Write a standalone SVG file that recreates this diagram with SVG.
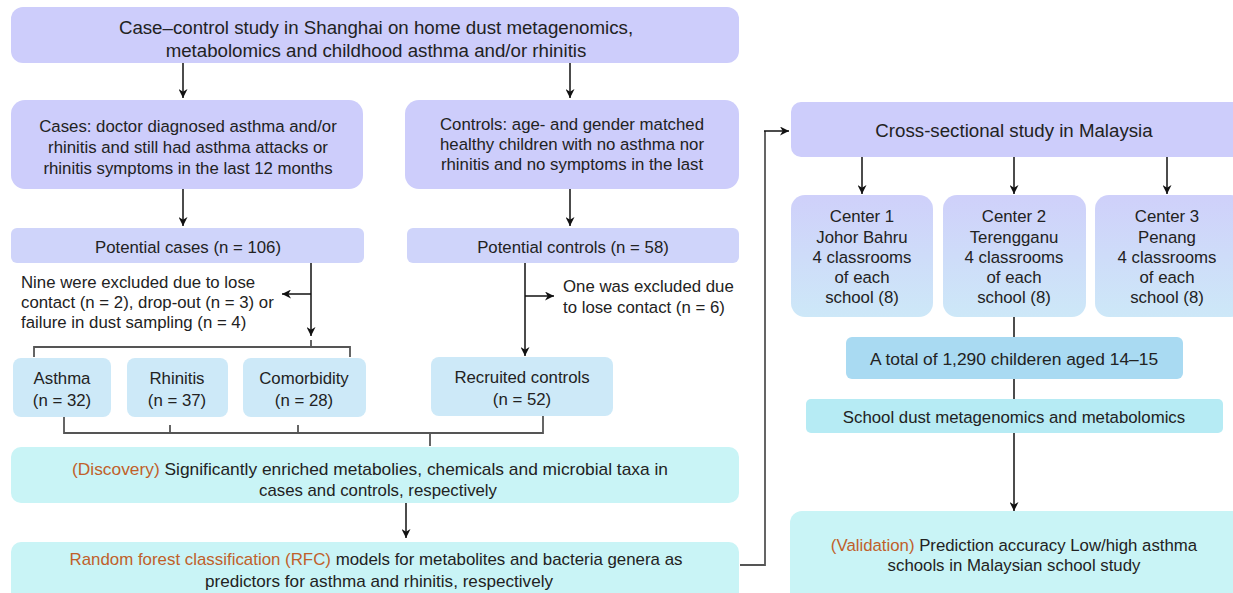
<svg xmlns="http://www.w3.org/2000/svg" width="1233" height="593" viewBox="0 0 1233 593">
<defs>
<marker id="ah" viewBox="0 0 10 10" refX="10" refY="5" markerWidth="9" markerHeight="9" markerUnits="userSpaceOnUse" orient="auto">
<path d="M0,0 L10,5 L0,10 L3,5 z" fill="#111"/>
</marker>
<linearGradient id="cg" x1="0" y1="0" x2="0" y2="1">
<stop offset="0" stop-color="#cfd0fa"/>
<stop offset="1" stop-color="#cde8f8"/>
</linearGradient>
<style>
text{font-family:"Liberation Sans",Arial,sans-serif;fill:#222;}
.t18{font-size:18.7px;text-anchor:middle;}
.t16{font-size:16.8px;text-anchor:middle;}
.l16{font-size:16.8px;}
.n{font-size:17px;text-anchor:middle;}
.lav{fill:#cdcdfb;}
.pot{fill:#cfd4fa;}
.lb{fill:#cde9f8;}
.cy{fill:#c9f4f6;}
.tot{fill:#a9daf2;}
.sd{fill:#b6ebf4;}
.or{fill:#c0602a;}
.arr{stroke:#111;stroke-width:1.5;fill:none;marker-end:url(#ah);}
.ln{stroke:#111;stroke-width:1.5;fill:none;}
.br{stroke:#555;stroke-width:1.8;fill:none;}
</style>
</defs>

<g id="connectors">
<line class="arr" x1="183" y1="63" x2="183" y2="98"/>
<line class="arr" x1="570" y1="63" x2="570" y2="98"/>
<line class="arr" x1="183" y1="189" x2="183" y2="226"/>
<line class="arr" x1="570" y1="189" x2="570" y2="226"/>
<line class="arr" x1="311" y1="263" x2="311" y2="336"/>
<line class="arr" x1="311" y1="294" x2="282" y2="294"/>
<line class="arr" x1="525" y1="263" x2="525" y2="356"/>
<line class="arr" x1="525" y1="296" x2="554" y2="296"/>
<path class="br" d="M34,357 V347 H350 V357 M311,347 V340"/>
<path class="br" d="M64,417 V433 H543 V416 M170,433 V425 M298,433 V425 M430,433 V446"/>
<line class="arr" x1="406" y1="503" x2="406" y2="538"/>
<path class="br" d="M740,565 H765 V131"/>
<line class="arr" x1="764" y1="131" x2="789" y2="131"/>
<line class="arr" x1="862" y1="157" x2="862" y2="194"/>
<line class="arr" x1="1014" y1="157" x2="1014" y2="194"/>
<line class="arr" x1="1167" y1="157" x2="1167" y2="194"/>
<line class="ln" x1="1014" y1="317" x2="1014" y2="337"/>
<line class="ln" x1="1014" y1="379" x2="1014" y2="399"/>
<line class="arr" x1="1014" y1="433" x2="1014" y2="511"/>
</g>

<g id="case-control">
<rect class="lav" x="11" y="7" width="728" height="56" rx="12"/>
<text class="t18" x="376" y="33.5">Case–control study in Shanghai on home dust metagenomics,</text>
<text class="t18" x="376" y="56.5">metabolomics and childhood asthma and/or rhinitis</text>
</g>

<g id="cases">
<rect class="lav" x="11" y="100" width="352" height="89" rx="14"/>
<text class="t16" x="188" y="132">Cases:  doctor diagnosed asthma and/or</text>
<text class="t16" x="188" y="153">rhinitis and still had asthma attacks or</text>
<text class="t16" x="188" y="174">rhinitis symptoms in the last 12 months</text>
</g>

<g id="controls">
<rect class="lav" x="405" y="100" width="334" height="89" rx="14"/>
<text class="t16" x="572" y="130">Controls: age- and gender matched</text>
<text class="t16" x="572" y="150">healthy children with no asthma nor</text>
<text class="t16" x="572" y="170">rhinitis and no symptoms in the last</text>
</g>

<g id="potential-cases">
<rect class="pot" x="11" y="228" width="353" height="35" rx="6"/>
<text class="t16" x="188" y="252.5">Potential cases (n = 106)</text>
</g>

<g id="potential-controls">
<rect class="pot" x="407" y="228" width="332" height="35" rx="6"/>
<text class="t16" x="573" y="252.5">Potential controls (n = 58)</text>
</g>

<g id="excluded-cases">
<text class="l16" x="21" y="288">Nine were excluded due to lose</text>
<text class="l16" x="21" y="308">contact (n = 2), drop-out (n = 3) or</text>
<text class="l16" x="21" y="328">failure in dust sampling (n = 4)</text>
</g>

<g id="excluded-controls">
<text class="l16" x="563" y="291.5">One was excluded due</text>
<text class="l16" x="563" y="312.5">to lose contact (n = 6)</text>
</g>

<g id="asthma">
<rect class="lb" x="13" y="358" width="98" height="59" rx="8"/>
<text class="t16" x="62" y="384">Asthma</text>
<text class="t16" x="62" y="406">(n = 32)</text>
</g>

<g id="rhinitis">
<rect class="lb" x="127" y="358" width="101" height="59" rx="8"/>
<text class="t16" x="177" y="384">Rhinitis</text>
<text class="t16" x="177" y="406">(n = 37)</text>
</g>

<g id="comorbidity">
<rect class="lb" x="243" y="358" width="123" height="59" rx="8"/>
<text class="t16" x="304" y="384">Comorbidity</text>
<text class="t16" x="304" y="406">(n = 28)</text>
</g>

<g id="recruited-controls">
<rect class="lb" x="431" y="357" width="182" height="59" rx="8"/>
<text class="t16" x="522" y="383">Recruited controls</text>
<text class="t16" x="522" y="405">(n = 52)</text>
</g>

<g id="discovery">
<rect class="cy" x="11" y="447" width="728" height="56" rx="10"/>
<text class="n" x="370" y="475" textLength="596" lengthAdjust="spacingAndGlyphs"><tspan class="or">(Discovery)</tspan> Significantly enriched metabolies, chemicals and microbial taxa in</text>
<text class="n" x="378" y="496" textLength="238" lengthAdjust="spacingAndGlyphs">cases and controls, respectively</text>
</g>

<g id="rfc">
<rect class="cy" x="11" y="542" width="728" height="60" rx="10"/>
<text class="n" x="376" y="565" textLength="613" lengthAdjust="spacingAndGlyphs"><tspan class="or">Random forest classification (RFC)</tspan> models for metabolites and bacteria genera as</text>
<text class="n" x="379" y="587" textLength="348" lengthAdjust="spacingAndGlyphs">predictors for asthma and rhinitis, respectively</text>
</g>

<g id="malaysia">
<rect class="lav" x="791" y="102" width="454" height="55" rx="10"/>
<text class="t18" x="1014" y="136.5">Cross-sectional study in Malaysia</text>
</g>

<g id="center1">
<rect fill="url(#cg)" x="791" y="195" width="142" height="122" rx="14"/>
<text class="t16" x="862" y="222">Center 1</text>
<text class="t16" x="862" y="242.5">Johor Bahru</text>
<text class="t16" x="862" y="263">4 classrooms</text>
<text class="t16" x="862" y="283">of each</text>
<text class="t16" x="862" y="303">school (8)</text>
</g>

<g id="center2">
<rect fill="url(#cg)" x="943" y="195" width="143" height="122" rx="14"/>
<text class="t16" x="1014" y="222">Center 2</text>
<text class="t16" x="1014" y="242.5">Terengganu</text>
<text class="t16" x="1014" y="263">4 classrooms</text>
<text class="t16" x="1014" y="283">of each</text>
<text class="t16" x="1014" y="303">school (8)</text>
</g>

<g id="center3">
<rect fill="url(#cg)" x="1095" y="195" width="150" height="122" rx="14"/>
<text class="t16" x="1167" y="222">Center 3</text>
<text class="t16" x="1167" y="242.5">Penang</text>
<text class="t16" x="1167" y="263">4 classrooms</text>
<text class="t16" x="1167" y="283">of each</text>
<text class="t16" x="1167" y="303">school (8)</text>
</g>

<g id="total">
<rect class="tot" x="846" y="337" width="337" height="42" rx="6"/>
<text class="t16" x="1014" y="365" style="font-size:17.4px">A total of 1,290 childeren aged 14–15</text>
</g>

<g id="school-dust">
<rect class="sd" x="806" y="399" width="417" height="34" rx="5"/>
<text class="t16" x="1014" y="422.5">School dust metagenomics and metabolomics</text>
</g>

<g id="validation">
<rect class="cy" x="790" y="511" width="455" height="95" rx="12"/>
<text class="t16" x="1014" y="551"><tspan class="or">(Validation)</tspan> Prediction accuracy Low/high asthma</text>
<text class="t16" x="1014" y="571">schools in Malaysian school study</text>
</g>
</svg>
